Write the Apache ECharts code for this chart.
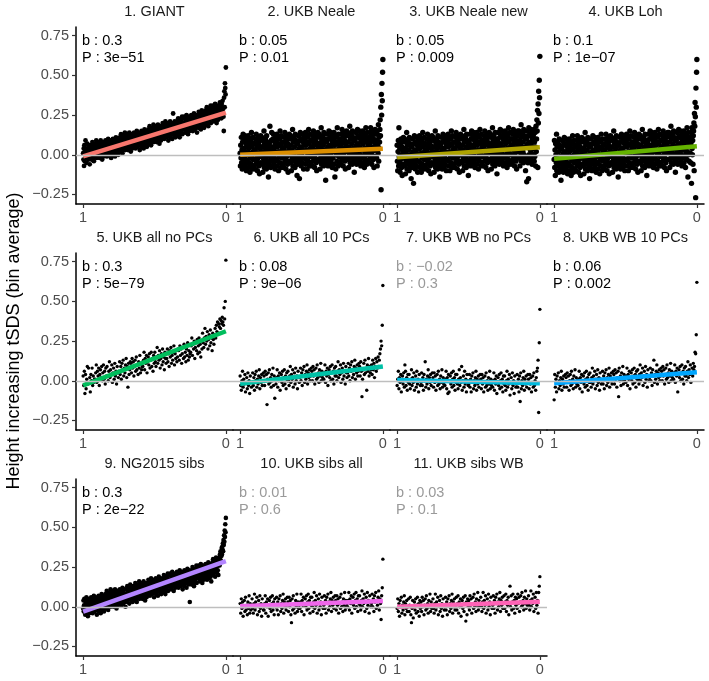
<!DOCTYPE html>
<html>
<head>
<meta charset="utf-8">
<script src="https://cdn.jsdelivr.net/npm/echarts@6/dist/echarts.min.js"></script>
<style>html,body{margin:0;padding:0;background:#fff}#c{width:709px;height:681px}</style>
</head>
<body>
<div id="c"></div>
<script>
// ---- DATA (bin averages of height-increasing tSDS, values x100, ordered from x=1 to x=0) ----
const panelTitles = ["1. GIANT","2. UKB Neale","3. UKB Neale new","4. UKB Loh","5. UKB all no PCs","6. UKB all 10 PCs","7. UKB WB no PCs","8. UKB WB 10 PCs","9. NG2015 sibs","10. UKB sibs all","11. UKB sibs WB"];
const bValues = ["0.3","0.05","0.05","0.1","0.3","0.08","\u22120.02","0.06","0.3","0.01","0.03"];
const pValues = ["3e\u221251","0.01","0.009","1e\u221207","5e\u221279","9e\u221206","0.3","0.002","2e\u221222","0.6","0.1"];
const significant = [true,true,true,true,true,true,false,true,true,false,false];
const lineStart = [-0.01,0.0,-0.015,-0.025,-0.029,-0.019,0.005,-0.015,-0.031,0.004,0.0];
const lineEnd = [0.265,0.038,0.048,0.054,0.312,0.09,-0.015,0.054,0.288,0.037,0.031];
const lineColors = ["#F8766D","#DB8E00","#AEA200","#64B200","#00BD5C","#00C1A7","#00BADE","#00A6FF","#B385FF","#EF67EB","#FF63B6"];
const xTicks = [1, 0];
const yTicks = [-0.25, 0, 0.25, 0.5, 0.75];

const giantY = [
1,-3,4,-7,6,-4,3,0,9,-2,2,-5,4,0,7,-2,1,3,-3,6,-1,2,-6,5,
4,-1,2,6,-3,3,0,8,1,5,-2,2,-4,4,7,0,3,-1,6,1,9,-2,2,5,
2,7,0,4,8,1,3,-2,6,-1,5,9,0,4,2,7,-3,5,3,1,8,-1,6,4,
7,4,2,9,0,5,3,6,-1,8,1,4,10,2,5,0,7,3,4,9,1,6,-2,5,
5,1,8,3,10,0,7,4,9,2,6,-1,8,4,11,2,5,7,1,10,3,6,0,9,
9,4,7,11,2,8,5,13,6,10,3,7,1,9,12,5,8,4,11,6,14,3,7,10,
7,12,5,9,13,6,8,3,11,4,10,14,5,9,7,12,2,10,8,6,13,4,11,9,
12,9,7,14,5,10,8,11,4,13,6,9,15,7,10,5,12,8,9,14,6,11,3,10,
10,6,13,8,15,5,12,9,14,7,11,4,13,9,16,7,10,12,6,15,8,11,5,14,
14,9,12,16,7,13,10,18,11,15,8,12,6,14,17,10,13,9,16,11,19,8,12,15,
12,17,10,14,18,11,13,8,16,9,15,19,10,14,12,17,7,15,13,11,18,9,16,14,
18,15,13,20,11,16,14,17,10,19,12,15,21,13,16,11,18,14,15,20,12,17,9,16,
16,12,19,14,21,11,18,15,20,13,17,10,19,15,26,13,16,18,12,21,14,17,11,20,
19,14,17,21,12,18,15,23,16,20,13,17,11,19,22,15,18,14,21,16,24,13,17,20,
18,23,16,20,24,17,19,14,22,15,21,25,16,20,18,23,13,21,19,17,24,15,22,20,
23,20,18,25,16,21,19,22,15,24,17,20,26,18,21,16,23,19,20,25,17,22,14,21,
22,18,25,20,27,17,24,21,26,19,23,16,25,21,28,19,22,24,18,27,20,23,17,26,
26,21,24,28,19,25,22,30,23,27,20,24,18,26,29,22,25,21,28,23,31,20,24,27,
25,30,23,27,31,24,26,21,29,22,28,32,23,27,25,30,20,28,26,24,31,22,29,27,
31,28,26,33,24,29,27,30,23,32,25,28,34,26,29,24,15,36,40,30,45,42,38,55];

const ukbNealeY = [
1,-7,6,-2,11,-5,3,-9,8,0,13,-4,4,-8,9,-1,12,-6,2,-3,7,-10,5,10,
-4,8,0,12,-8,4,-5,10,1,-11,6,-2,9,-6,14,-1,5,-9,11,-3,2,-7,7,3,
7,-3,-9,3,10,-6,13,0,-4,5,-10,8,-2,11,1,-7,6,-12,4,9,-5,12,-1,2,
-1,11,-6,5,-11,9,2,-3,15,-8,7,0,-5,10,-2,4,-9,12,-4,8,1,-7,6,-14,
2,-6,7,-1,18,-4,4,-8,9,1,14,-3,5,-7,10,0,13,-5,3,-2,8,-9,6,11,
-3,9,1,13,-7,5,-4,11,2,-10,7,-1,10,-5,15,0,6,-8,12,-2,3,-6,8,4,
8,-2,-8,4,11,-5,14,1,-3,6,-9,9,-1,12,2,-6,7,-11,5,10,-4,13,0,3,
0,12,-5,6,-10,10,3,-2,16,-7,8,1,-4,11,-1,5,-8,13,-3,9,2,-6,7,-13,
2,-6,7,-1,12,-4,4,-15,9,1,14,-3,5,-7,10,0,13,-5,3,-2,8,-9,6,11,
-2,10,2,14,-6,6,-3,12,3,-9,8,0,11,-4,16,1,7,-7,13,-1,4,-5,9,5,
9,-1,-7,5,12,-4,15,2,-2,7,-8,10,0,13,3,-5,8,-10,6,11,-3,14,1,4,
1,13,-4,7,-9,11,4,-1,17,-6,9,2,-3,12,0,6,-7,14,-2,10,3,-5,8,-16,
3,-5,8,0,13,-3,5,-7,10,2,15,-2,6,-6,11,1,14,-4,4,-1,9,-8,7,12,
-2,10,2,14,-6,6,-14,12,3,-9,8,0,11,-4,17,1,7,-7,13,-1,4,-5,9,5,
10,0,-6,6,13,-3,16,3,-1,8,-7,11,1,14,4,-4,9,-9,7,12,-2,15,2,5,
2,14,-3,8,-8,12,5,0,18,-5,10,3,-2,13,1,7,-6,15,-1,11,4,-4,9,-11,
4,-4,9,1,14,-2,6,-6,11,3,16,-1,7,-5,12,2,15,-3,5,0,10,-7,8,13,
-1,11,3,15,-5,7,-2,13,4,-8,9,1,12,-3,17,2,8,-6,14,0,5,-4,10,6,
11,1,-5,7,14,-2,17,4,0,9,-6,12,2,15,5,-3,10,-8,8,13,-1,16,3,6,
3,15,-2,9,-7,13,6,1,19,-4,11,4,8,16,22,12,30,-22,38,25,45,34,52,60];

const ukbNealeNewY = [
6,-4,-10,2,9,-7,17,-1,-5,4,-11,7,-3,10,0,-8,5,-13,3,8,-6,11,-2,1,
-2,10,-7,4,-12,8,1,-4,14,-9,6,-1,-6,9,-3,3,-10,11,-5,7,0,-8,5,-15,
0,-8,5,-3,10,-6,2,-18,7,-1,12,-5,3,-9,8,-2,11,-7,1,-4,6,-11,4,9,
-4,8,0,12,-8,4,-5,10,1,-11,6,-2,9,-6,14,-1,5,-9,11,-3,2,-7,7,3,
7,-3,-9,3,10,-6,13,0,-4,5,-10,8,-2,11,1,-7,6,-12,4,9,-5,12,-1,2,
-1,11,-6,5,-11,9,2,-3,15,-8,7,0,-5,10,-2,4,-9,12,-4,8,1,-7,6,-14,
1,-7,6,-2,11,-5,3,-9,8,0,13,-4,4,-8,9,-1,12,-6,2,-3,7,-10,5,10,
-3,9,1,13,-7,5,-4,11,2,-10,7,-1,10,-5,15,0,6,-8,12,-2,3,-6,8,4,
8,-2,-8,4,11,-5,14,1,-3,6,-9,9,-1,12,2,-6,7,-11,5,10,-4,13,0,3,
0,12,-5,6,-10,10,3,-2,16,-7,8,1,-4,11,-1,5,-8,13,-3,9,2,-6,7,-13,
3,-5,8,0,13,-3,5,-7,10,2,15,-2,6,-6,11,1,14,-4,4,-1,9,-8,7,12,
-2,10,2,14,-6,6,-3,12,3,-9,8,0,11,-4,16,1,7,-7,13,-1,4,-5,9,5,
9,-1,-7,5,12,-4,15,2,-2,7,-8,10,0,13,3,-5,8,-10,6,11,-3,14,1,4,
1,13,-4,7,-9,11,4,-1,17,-6,9,2,-3,12,0,6,-7,14,-2,10,3,-5,8,-12,
4,-4,9,1,14,-2,6,-6,11,3,16,-1,7,-5,12,2,15,-3,5,0,10,-7,8,13,
-1,11,3,15,-5,7,-2,13,4,-8,9,1,12,-3,17,2,8,-6,14,0,5,-4,10,6,
10,0,-6,6,13,-3,16,3,-1,8,-7,11,1,14,4,-4,9,-9,7,12,-2,15,2,5,
3,15,-2,9,-7,13,6,1,19,-4,11,4,-1,14,2,8,-5,16,0,12,5,-3,10,-10,
5,-3,10,-17,15,-1,7,-5,12,-15,17,0,8,-4,13,3,16,-2,6,1,11,-6,9,14,
0,12,4,16,-4,8,-1,14,5,-7,18,2,10,22,15,28,-8,32,20,40,26,47,36,62];

const ukbLohY = [
-3,9,-8,3,-13,7,0,-5,13,-10,5,-2,-7,8,-4,2,-11,10,-6,6,-1,-9,4,-16,
-1,-9,4,-4,9,-7,1,-11,6,-2,11,-6,2,-10,7,-3,10,-8,0,-5,5,-12,3,8,
-6,6,-2,10,-10,2,-7,8,-1,-13,4,-4,7,-8,12,-3,3,-11,9,-5,0,-9,5,1,
6,-4,-10,2,9,-7,12,-1,-5,4,-11,7,-3,10,0,-8,5,-13,3,8,-6,11,-2,1,
-2,10,-7,4,-12,8,1,-4,14,-9,6,-1,-6,9,-3,3,-10,11,-5,7,0,-8,5,-15,
0,-8,5,-3,10,-6,2,-10,7,-1,12,-5,3,-9,8,-2,11,-7,1,-4,6,-11,4,9,
-5,7,-1,11,-9,3,-6,9,0,-12,5,-3,8,-7,13,-2,4,-10,10,-4,1,-8,6,2,
7,-3,-9,3,10,-6,13,0,-4,5,-10,8,-2,11,1,-7,6,-12,4,9,-5,12,-1,2,
-1,11,-6,5,-11,9,2,-3,15,-8,7,0,-5,10,-2,4,-9,12,-4,8,1,-7,6,-14,
1,-7,6,-2,11,-5,3,-9,8,0,13,-4,4,-8,9,-1,12,-6,2,-3,7,-10,5,10,
-3,9,1,13,-7,5,-4,11,2,-10,7,-1,10,-5,15,0,6,-8,12,-2,3,-6,8,4,
8,-2,-8,4,11,-5,14,1,-3,6,-9,9,-1,12,2,-6,7,-11,5,10,-4,13,0,3,
0,12,-5,6,-10,10,3,-2,16,-7,8,1,-4,11,-1,5,-8,13,-3,9,2,-6,7,-13,
3,-5,8,0,13,-3,5,-7,10,2,15,-2,6,-6,11,1,14,-4,4,-1,9,-8,7,12,
-2,10,2,14,-6,6,-3,12,3,-9,8,0,11,-4,16,1,7,-7,13,-1,4,-5,9,5,
9,-1,-7,5,12,-4,15,2,-2,7,-8,10,0,13,3,-5,8,-10,6,11,-3,14,1,4,
2,14,-3,8,-8,12,5,0,18,-5,10,3,-2,13,1,7,-6,15,-1,11,4,-4,9,-11,
4,-4,9,1,14,-2,6,-6,11,3,16,-1,7,-5,12,2,15,-3,5,0,10,-7,8,13,
-1,11,3,15,-5,7,-2,13,4,-8,9,1,12,-3,17,2,8,-14,14,0,5,-4,10,6,
11,1,-5,7,14,-18,17,4,0,9,-6,12,15,20,-10,26,18,33,24,-27,42,30,52,60];

const allNoPcY = [
3,-3,6,-8,4,-5,1,9,-2,8,-1,2,-7,4,0,8,-3,3,-1,1,
1,5,10,-1,6,3,8,-3,4,7,2,9,0,5,10,1,6,-2,8,3,
9,3,0,6,12,2,7,4,10,-1,5,8,1,11,3,6,-2,9,5,2,
6,12,4,9,1,11,7,13,3,8,5,10,14,2,9,-4,11,4,7,12,
11,5,14,8,12,3,9,13,6,15,7,10,4,12,8,16,5,11,7,9,
9,13,18,7,14,11,16,5,12,15,10,17,8,13,18,9,14,6,16,11,
18,12,9,15,21,11,16,13,19,8,14,17,10,20,12,15,7,18,14,11,
14,20,12,17,9,19,15,21,11,16,13,18,22,10,17,14,19,12,15,20,
19,13,22,16,20,11,17,21,14,23,15,18,12,20,16,24,13,19,15,17,
18,22,27,16,23,20,25,14,21,24,19,26,17,22,27,18,23,15,25,20,
30,24,21,27,33,23,28,25,31,20,26,29,22,32,24,27,19,30,26,23,
29,33,27,35,31,37,30,36,34,39,33,38,36,40,37,35,46,39,50,76];

const all10PcY = [
3,-3,-6,0,6,-4,1,-2,4,-7,-1,2,-5,5,-3,0,-8,3,-1,-4,
-1,5,-3,2,-6,4,0,6,-4,1,-2,3,7,-5,2,-1,4,-3,0,5,
3,-3,6,0,4,-15,1,5,-2,7,-1,2,-4,4,0,8,-3,3,-11,1,
-2,2,7,-4,3,0,5,-6,1,4,-1,6,-3,2,7,-2,3,-5,5,0,
6,0,-3,3,9,-1,4,1,7,-4,2,5,-2,8,0,3,-5,6,2,-1,
2,8,0,5,-3,7,3,9,-1,4,1,6,10,-2,5,2,7,0,3,8,
6,0,9,3,7,-2,4,8,1,10,2,5,-1,7,3,11,0,6,2,4,
1,5,10,-1,6,3,8,-3,4,7,2,9,0,5,10,1,6,-2,8,3,
9,3,0,6,12,2,7,4,10,-1,5,8,1,11,3,6,-2,9,5,2,
5,11,3,8,0,10,6,12,2,7,4,9,13,1,8,5,10,3,6,11,
9,3,12,6,-10,1,7,11,4,13,5,8,-6,10,6,14,3,9,5,7,
10,4,13,7,11,2,9,14,6,12,8,15,9,13,17,20,25,22,35,60];

const wbNoPcY = [
-3,1,6,-5,2,-1,4,-7,0,3,-2,5,-4,10,6,-3,2,-6,4,-1,
4,-2,-5,1,7,-3,2,-1,5,-6,0,3,-4,6,-2,1,-7,4,0,-3,
-1,5,-3,2,-6,4,0,12,-4,1,-2,3,7,-5,2,-1,4,-3,0,5,
2,-4,5,-1,3,-6,0,4,-3,6,-2,1,-5,3,-1,7,-4,2,-2,0,
-3,1,6,-5,2,-8,4,-7,0,3,-2,5,-4,1,6,-3,2,-6,4,-1,
4,-2,-5,1,7,-3,2,-1,9,-6,0,3,-4,6,-2,1,-7,4,0,-3,
-2,4,-4,1,-7,3,-1,5,-5,0,-3,2,6,-6,1,-2,3,-4,-1,4,
1,-5,4,-2,2,-7,-1,3,-4,5,-3,0,-6,2,-2,6,-5,1,-3,-1,
-4,0,5,-6,1,-2,3,-8,-1,2,-3,4,-5,0,5,-4,1,-7,3,-2,
3,-3,-6,0,6,-4,1,-2,4,-9,-1,2,-5,5,-3,0,-8,3,-1,-4,
-2,4,-4,1,-7,3,-13,5,-5,0,-3,2,6,-6,1,-2,3,-4,-1,4,
1,-5,4,-2,2,-7,-1,3,-4,5,-3,0,-6,2,6,8,13,-20,24,45];

const wb10PcY = [
-12,4,-4,1,-7,3,-1,5,-5,0,-3,2,6,-6,1,-2,3,-4,-1,4,
2,-4,5,-1,3,-6,0,4,-3,6,-2,1,-5,3,-1,7,-4,2,-2,0,
-3,1,6,-5,2,-1,4,-7,0,3,-2,5,-4,1,6,-3,2,-6,4,-1,
5,-1,-4,2,8,-2,3,0,6,-5,1,4,-3,7,-1,2,-6,5,1,-2,
0,6,-2,3,-5,5,1,7,-3,2,-1,4,8,-4,3,0,5,-2,1,6,
4,-2,7,1,5,-4,2,6,-10,8,0,3,-3,5,1,9,-2,4,0,2,
-1,3,8,-3,4,1,6,-5,2,5,0,7,-2,3,8,-1,4,-4,6,1,
7,1,-2,4,10,0,5,2,8,-3,3,6,-1,9,1,4,-4,7,3,0,
2,8,0,5,-3,7,3,13,-1,4,1,6,10,-2,5,2,7,0,3,8,
6,0,9,3,7,-2,4,8,1,10,2,5,-1,7,3,11,0,6,2,4,
1,5,10,-1,6,3,8,-7,4,7,2,9,0,5,10,1,6,-2,8,3,
9,3,0,6,12,2,7,4,10,-1,5,8,3,11,7,9,18,17,29,62];

const ng2015Y = [
-1,4,-3,1,5,-2,0,-5,3,-4,2,6,-3,1,-1,4,-6,2,0,-2,5,-4,3,1,
4,1,-1,6,-3,2,0,3,-4,5,-2,1,7,-1,2,-3,4,0,1,6,-2,3,-5,2,
2,-2,5,0,7,-3,4,1,6,-1,3,-4,5,1,8,-1,2,4,-2,7,0,3,-3,6,
6,1,4,8,-1,5,2,10,3,7,0,4,-2,6,9,2,5,1,8,3,11,0,4,7,
4,9,2,6,10,3,5,0,8,1,7,11,2,6,4,9,-1,7,5,3,10,1,8,6,
9,6,4,11,2,7,5,8,1,10,3,6,12,4,7,2,9,5,6,11,3,8,0,7,
8,4,11,6,13,3,10,7,12,5,9,2,11,7,14,5,8,10,4,13,6,9,3,12,
11,6,9,13,4,10,7,15,8,12,5,9,3,11,14,7,10,6,13,8,16,5,9,12,
9,14,7,11,15,8,10,5,13,6,12,16,7,11,9,14,4,12,10,8,15,6,13,11,
15,12,10,17,8,13,11,14,7,16,9,12,18,10,13,8,15,11,12,17,9,14,6,13,
13,9,16,11,18,8,15,12,17,10,14,7,16,12,19,10,13,15,9,18,11,14,8,17,
16,11,14,18,9,15,12,20,13,17,10,14,8,16,19,12,15,11,18,13,21,10,14,17,
15,20,13,17,21,14,16,11,19,12,18,22,13,17,15,20,10,18,16,14,21,12,19,17,
20,17,15,22,13,18,16,19,12,21,14,17,23,15,18,13,20,16,17,22,14,19,11,18,
18,14,21,16,23,13,20,17,22,15,19,12,21,17,24,15,18,20,14,23,16,19,3,22,
21,16,19,23,14,20,17,25,18,22,15,19,13,21,24,17,20,16,23,18,26,15,19,22,
20,25,18,22,26,19,21,16,24,17,23,27,18,22,20,25,15,23,21,19,26,17,24,22,
25,22,20,27,18,23,21,24,17,26,19,22,28,20,23,18,25,21,22,27,19,24,16,23,
25,21,28,23,30,20,27,24,29,22,26,19,28,24,31,22,25,27,21,30,23,26,20,29,
28,31,26,33,30,35,29,34,32,37,33,38,36,40,35,42,39,45,41,48,44,52,47,56];

const sibsAllY = [
2,-4,5,-1,3,-6,0,4,-3,6,-2,1,-5,3,-1,7,-4,2,-2,0,
5,-1,-4,2,8,-2,3,0,6,-5,1,4,-3,7,-1,2,-6,5,1,-2,
-2,2,7,-4,3,0,5,-6,1,4,-1,6,-3,2,7,-2,3,-5,5,0,
0,6,-2,3,-5,5,1,7,-3,2,-1,4,8,-4,3,0,5,-2,1,6,
3,-3,6,0,4,-5,-10,5,-2,7,-1,2,-4,4,0,8,-3,3,-1,1,
-1,3,8,-3,4,1,6,-5,2,5,0,7,-2,3,8,-1,4,-4,6,1,
6,0,-3,3,9,-1,4,1,7,-4,2,5,-2,8,0,3,-5,6,2,-1,
1,7,-1,4,-4,6,2,8,-2,3,0,5,9,-3,4,1,6,-1,2,7,
4,-2,7,1,5,-4,2,6,-1,8,0,3,-3,5,1,9,-2,4,0,2,
0,4,9,-2,5,2,7,-4,3,6,1,8,-1,4,9,0,5,-3,7,2,
7,1,-2,4,10,0,5,2,8,-3,3,6,-1,9,1,4,-4,7,3,0,
2,8,0,5,-3,7,3,9,-1,4,1,6,10,-2,5,2,-8,7,12,30];

const sibsWbY = [
-1,5,-3,2,-6,4,0,6,-4,1,-2,3,7,-5,2,-1,4,-3,0,5,
-3,1,6,-5,-10,-1,4,-7,0,3,-2,5,-4,1,6,-3,2,-6,4,-1,
3,-3,6,0,4,-5,1,5,-2,7,-1,2,-4,4,0,8,-3,3,-1,1,
5,-1,-4,2,8,-2,3,0,6,-5,1,4,-3,7,-1,2,-6,5,1,-2,
0,6,-2,3,-5,5,1,7,-3,2,-1,4,8,-4,3,0,5,-2,1,6,
-2,2,7,-4,3,0,5,-6,1,4,-1,6,-3,2,7,-9,3,-5,5,0,
4,-2,7,1,5,-4,2,6,-1,8,0,3,-3,5,1,9,-2,4,0,2,
6,0,-3,3,9,-1,4,1,7,-4,2,5,-2,8,0,3,-5,6,2,-1,
1,7,-1,4,-4,6,2,8,-2,3,0,5,9,-3,4,1,6,-1,2,7,
-1,3,8,-3,4,1,6,-5,2,13,0,7,-2,3,8,-1,4,-4,6,1,
5,-1,8,2,6,-3,3,7,0,9,1,4,-2,6,2,10,-1,5,1,3,
7,1,-2,4,10,0,5,2,8,-3,3,6,-1,9,1,4,-4,9,13,19];

const panelData = [giantY, ukbNealeY, ukbNealeNewY, ukbLohY, allNoPcY, all10PcY, wbNoPcY, wb10PcY, ng2015Y, sibsAllY, sibsWbY];

// ---- LAYOUT / STYLE ----
const pointSize = [4.8, 5.4, 5.4, 5.4, 3.4, 3.4, 3.4, 3.4, 4.6, 3.4, 3.4];
const FONT = '"Liberation Sans", Arial, Helvetica, sans-serif';
const COLS = [76, 233, 390, 547];
const ROWS = [27, 253, 479];
const PW = 157, PH = 177;

const chart = echarts.init(document.getElementById('c'), null, {renderer: 'canvas'});
const grid = [], xAxis = [], yAxis = [], series = [], graphic = [];

function fmtY(v) {
  const s = Math.abs(v).toFixed(2);
  return (v < -1e-9 ? '\u2212' : '') + s;
}

panelData.forEach((vals, i) => {
  const col = i % 4, row = Math.floor(i / 4);
  const left = COLS[col], top = ROWS[row];
  grid.push({left: left, top: top, width: PW, height: PH, containLabel: false});
  xAxis.push({
    gridIndex: i, type: 'value', inverse: true, min: -0.05, max: 1.05,
    axisLine: {show: true, onZero: false, lineStyle: {color: '#000', width: 1.5}},
    axisTick: {show: true, customValues: xTicks, length: 4, lineStyle: {color: '#333', width: 1.2}},
    axisLabel: {show: true, customValues: xTicks, formatter: v => String(Math.round(v)), color: '#4d4d4d', fontSize: 14.5, fontFamily: FONT, margin: 6},
    splitLine: {show: false}
  });
  const first = col === 0;
  yAxis.push({
    gridIndex: i, type: 'value', min: -0.31, max: 0.805,
    axisLine: {show: first, onZero: false, lineStyle: {color: '#000', width: 1.5}},
    axisTick: {show: first, customValues: yTicks, length: 4, lineStyle: {color: '#333', width: 1.2}},
    axisLabel: {show: first, customValues: yTicks, formatter: fmtY, color: '#4d4d4d', fontSize: 14.5, fontFamily: FONT, margin: 7},
    splitLine: {show: false}
  });
  const n = vals.length;
  const pts = vals.map((v, k) => [1 - k / (n - 1), v / 100]);
  series.push({
    type: 'line', xAxisIndex: i, yAxisIndex: i, data: [], z: 1, silent: true,
    markLine: {silent: true, symbol: ['none', 'none'], label: {show: false},
      lineStyle: {color: '#bebebe', width: 1.3, type: 'solid'}, data: [{yAxis: 0}], animation: false}
  });
  series.push({
    type: 'scatter', xAxisIndex: i, yAxisIndex: i, data: pts, symbolSize: pointSize[i], z: 2, silent: true,
    itemStyle: {color: '#000', opacity: 1}
  });
  series.push({
    type: 'line', xAxisIndex: i, yAxisIndex: i, data: [[1, lineStart[i]], [0, lineEnd[i]]],
    symbol: 'none', z: 3, silent: true, lineStyle: {color: lineColors[i], width: 4.5}
  });
  graphic.push({type: 'text', x: left + PW / 2, y: top - 15, silent: true,
    style: {text: panelTitles[i], fill: '#1a1a1a', font: '14.5px ' + FONT, textAlign: 'center', textVerticalAlign: 'middle', align: 'center', verticalAlign: 'middle'}});
  const tc = significant[i] ? '#000' : '#9a9a9a';
  graphic.push({type: 'text', x: left + 6, y: top + 13.5, silent: true, z: 10,
    style: {text: 'b : ' + bValues[i], fill: tc, font: '14.5px ' + FONT, textAlign: 'left', textVerticalAlign: 'middle', align: 'left', verticalAlign: 'middle'}});
  graphic.push({type: 'text', x: left + 6, y: top + 30.5, silent: true, z: 10,
    style: {text: 'P : ' + pValues[i], fill: tc, font: '14.5px ' + FONT, textAlign: 'left', textVerticalAlign: 'middle', align: 'left', verticalAlign: 'middle'}});
});

graphic.push({type: 'text', x: 14, y: 341, rotation: Math.PI / 2, silent: true,
  style: {text: 'Height increasing tSDS (bin average)', fill: '#000', font: '18px ' + FONT, textAlign: 'center', textVerticalAlign: 'middle', align: 'center', verticalAlign: 'middle'}});

chart.setOption({
  animation: false,
  backgroundColor: '#fff',
  grid: grid, xAxis: xAxis, yAxis: yAxis, series: series, graphic: graphic
});
</script>
</body>
</html>
